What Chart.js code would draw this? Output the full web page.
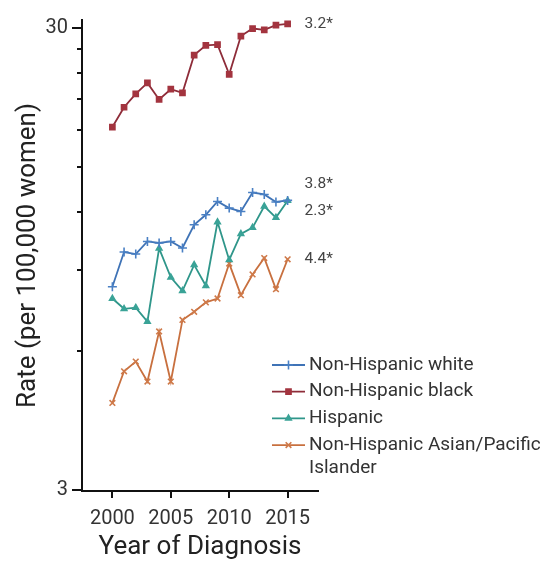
<!DOCTYPE html>
<html>
<head>
<meta charset="utf-8">
<script src="https://cdn.jsdelivr.net/npm/chart.js@4/dist/chart.umd.min.js"></script>
<style>
  html, body { margin: 0; padding: 0; background: #ffffff; }
  #wrap { position: relative; width: 540px; height: 565px; }
</style>
</head>
<body>
<div id="wrap"><canvas id="c" width="540" height="565"></canvas></div>
<script>
// Incidence rate per 100,000 women by year of diagnosis
const years = [2000, 2001, 2002, 2003, 2004, 2005, 2006, 2007, 2008, 2009, 2010, 2011, 2012, 2013, 2014, 2015];

const nhWhite    = [8.26, 9.82, 9.72, 10.35, 10.27, 10.35, 10.02, 11.25, 11.82, 12.63, 12.22, 12.02, 13.21, 13.08, 12.6, 12.7];
const nhBlack    = [18.3, 20.2, 21.6, 22.8, 21.0, 22.1, 21.7, 26.2, 27.5, 27.6, 23.8, 28.8, 29.9, 29.7, 30.4, 30.6];
const hispanic   = [7.79, 7.40, 7.44, 6.94, 10.0, 8.66, 8.09, 9.21, 8.30, 11.4, 9.44, 10.75, 11.09, 12.33, 11.66, 12.68];
const nhAsianPI  = [4.63, 5.42, 5.69, 5.15, 6.61, 5.15, 7.00, 7.29, 7.64, 7.79, 9.27, 7.92, 8.78, 9.53, 8.16, 9.47];

const seriesNames = ['Non-Hispanic white', 'Non-Hispanic black', 'Hispanic', 'Non-Hispanic Asian/Pacific Islander'];
// annual percent change shown beside the last point of each series
const apcLabels = ['3.8*', '3.2*', '2.3*', '4.4*'];

const xTicks = [2000, 2005, 2010, 2015];
const yTicks = [3, 6, 9, 12, 15, 18, 21, 24, 27, 30];
const yTickLabels = [3, 30];

const FONT = 'Roboto, "Liberation Sans", Arial, sans-serif';

const styles = [
  { line: '#3f73b6', point: '#4a80c4', shape: 'cross',    r: 4.5, dy: -16 },
  { line: '#8e2c39', point: '#a3343f', shape: 'rect',     r: 3.6, dy: 0 },
  { line: '#2f968a', point: '#3aa397', shape: 'triangle', r: 3.2, dy: 10 },
  { line: '#c8703f', point: '#cf7a4a', shape: 'crossRot', r: 4.0, dy: 0 }
];

const seriesValues = [nhWhite, nhBlack, hispanic, nhAsianPI];

const datasets = seriesValues.map((vals, i) => ({
  label: seriesNames[i],
  data: years.map((yr, k) => ({ x: yr, y: vals[k] })),
  borderColor: styles[i].line,
  backgroundColor: styles[i].point,
  pointBorderColor: styles[i].point,
  pointBackgroundColor: styles[i].point,
  pointStyle: styles[i].shape,
  pointRadius: styles[i].r,
  pointBorderWidth: 1.6,
  borderWidth: 1.8,
  tension: 0,
  fill: false
}));

function drawMarker(ctx, st, x, y) {
  if (Chart.helpers && Chart.helpers.drawPoint) {
    Chart.helpers.drawPoint(ctx, { pointStyle: st.shape, rotation: 0, radius: st.r, borderWidth: 1.6 }, x, y);
  } else {
    ctx.beginPath();
    ctx.arc(x, y, st.r, 0, Math.PI * 2);
    ctx.fill();
  }
}

// Tick marks, legend and end-of-line labels drawn on the canvas
const sideText = {
  id: 'sideText',
  afterDatasetsDraw(chart) {
    const ctx = chart.ctx;
    const area = chart.chartArea;
    const xs = chart.scales.x, ys = chart.scales.y;
    ctx.save();

    // tick marks: longer at labelled values, short elsewhere
    ctx.strokeStyle = '#111111';
    ctx.lineWidth = 2;
    yTicks.forEach(v => {
      const py = Math.round(ys.getPixelForValue(v));
      const len = yTickLabels.includes(v) ? 10 : 5;
      ctx.beginPath();
      ctx.moveTo(area.left - len, py);
      ctx.lineTo(area.left + 1, py);
      ctx.stroke();
    });
    xTicks.forEach(v => {
      const px = Math.round(xs.getPixelForValue(v));
      ctx.beginPath();
      ctx.moveTo(px, area.bottom - 1);
      ctx.lineTo(px, area.bottom + 7);
      ctx.stroke();
    });

    // end labels
    ctx.font = '15.5px ' + FONT;
    ctx.fillStyle = '#444444';
    ctx.textAlign = 'left';
    ctx.textBaseline = 'middle';
    chart.data.datasets.forEach((ds, i) => {
      const meta = chart.getDatasetMeta(i);
      const last = meta.data[meta.data.length - 1];
      ctx.fillText(apcLabels[i], last.x + 17, last.y + styles[i].dy);
    });

    // legend
    const lx0 = area.right - 46;
    const lx1 = lx0 + 33;
    const tx = lx1 + 4;
    const maxW = chart.width - tx + 8;
    let y = 365;
    const rowH = 26.7;
    const wrapH = 23;
    ctx.font = '19px ' + FONT;
    chart.data.datasets.forEach((ds, i) => {
      const st = styles[i];
      ctx.strokeStyle = st.line;
      ctx.lineWidth = 1.8;
      ctx.beginPath();
      ctx.moveTo(lx0, y);
      ctx.lineTo(lx1, y);
      ctx.stroke();
      ctx.strokeStyle = st.point;
      ctx.fillStyle = st.point;
      ctx.lineWidth = 1.6;
      drawMarker(ctx, st, (lx0 + lx1) / 2, y);

      // word-wrap the label
      const words = ds.label.split(' ');
      const lines = [];
      let cur = '';
      words.forEach(w => {
        const t = cur ? cur + ' ' + w : w;
        if (ctx.measureText(t).width > maxW && cur) { lines.push(cur); cur = w; }
        else cur = t;
      });
      lines.push(cur);
      ctx.fillStyle = '#333333';
      lines.forEach((ln, k) => ctx.fillText(ln, tx, y + k * wrapH));
      y += rowH;
    });
    ctx.restore();
  }
};

new Chart(document.getElementById('c'), {
  type: 'line',
  data: { datasets },
  plugins: [sideText],
  options: {
    responsive: false,
    animation: false,
    events: [],
    layout: { padding: { top: 17, right: 222, bottom: 0, left: 0 } },
    plugins: { legend: { display: false }, tooltip: { enabled: false } },
    scales: {
      x: {
        type: 'linear',
        min: 1997.4,
        max: 2017.6,
        afterBuildTicks: s => { s.ticks = xTicks.map(v => ({ value: v })); },
        afterFit: s => { s.height = 74; },
        grid: { display: true, drawOnChartArea: false, drawTicks: true, tickLength: 6, color: 'rgba(0,0,0,0)', tickColor: 'rgba(0,0,0,0)' },
        border: { display: true, color: '#111', width: 2 },
        ticks: { font: { family: FONT, size: 20 }, color: '#333', padding: 10, callback: v => String(v) },
        title: { display: true, text: 'Year of Diagnosis', font: { family: FONT, size: 26, lineHeight: 1.2 }, color: '#222', padding: { top: 0, bottom: 2 } }
      },
      y: {
        type: 'logarithmic',
        min: 2.985,
        max: 31.2,
        afterBuildTicks: s => { s.ticks = yTicks.map(v => ({ value: v })); },
        afterFit: s => { s.width = 82; },
        grid: { display: true, drawOnChartArea: false, drawTicks: true, tickLength: 6, color: 'rgba(0,0,0,0)', tickColor: 'rgba(0,0,0,0)' },
        border: { display: true, color: '#111', width: 2 },
        ticks: { font: { family: FONT, size: 20 }, color: '#333', padding: 8, autoSkip: false,
          callback: v => (yTickLabels.includes(v) ? String(v) : '') },
        title: { display: true, text: 'Rate (per 100,000 women)', font: { family: FONT, size: 26, lineHeight: 1.2 }, color: '#222', padding: { top: 13, bottom: 0 } }
      }
    }
  }
});
</script>
</body>
</html>
